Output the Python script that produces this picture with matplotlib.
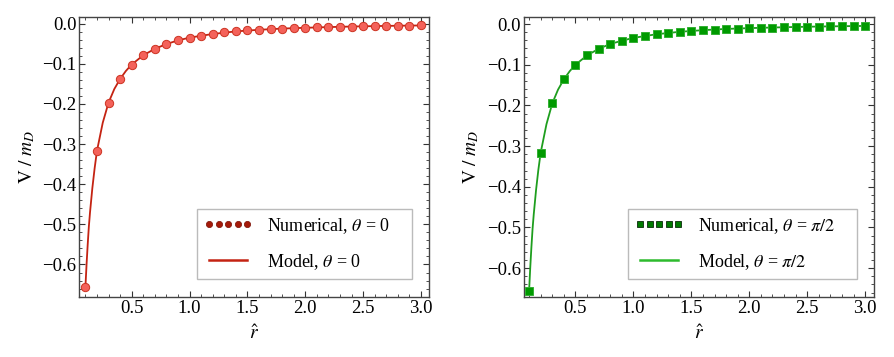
import numpy as np
import matplotlib
matplotlib.use("Agg")
from matplotlib import pyplot as plt
from matplotlib.lines import Line2D
from matplotlib.ticker import MultipleLocator, FuncFormatter

plt.rcParams['font.family'] = ['Liberation Serif', 'DejaVu Serif']
plt.rcParams['mathtext.fontset'] = 'stix'
plt.rcParams['font.size'] = 13

# datos
r_num = [0.1, 0.2, 0.3, 0.4, 0.5, 0.6, 0.7, 0.8, 0.9, 1.0,
         1.1, 1.2, 1.3, 1.4, 1.5, 1.6, 1.7, 1.8, 1.9, 2.0,
         2.1, 2.2, 2.3, 2.4, 2.5, 2.6, 2.7, 2.8, 2.9, 3.0]
v_num_0 = [-0.657, -0.317, -0.197, -0.138, -0.102, -0.079, -0.063, -0.051, -0.042, -0.035,
           -0.030, -0.026, -0.022, -0.0195, -0.017, -0.0155, -0.014, -0.0125, -0.0115, -0.0105,
           -0.0095, -0.0088, -0.0080, -0.0074, -0.0068, -0.0063, -0.0058, -0.0054, -0.0050, -0.0047]
v_num_pi2 = [-0.655, -0.316, -0.195, -0.136, -0.100, -0.077, -0.061, -0.049, -0.041, -0.034,
             -0.029, -0.025, -0.0215, -0.019, -0.0165, -0.015, -0.0135, -0.012, -0.011, -0.010,
             -0.0092, -0.0085, -0.0078, -0.0072, -0.0066, -0.0061, -0.0057, -0.0053, -0.0049, -0.0046]

r_mod = [0.1, 0.11, 0.12, 0.13, 0.14, 0.15, 0.16, 0.18, 0.2, 0.25, 0.3, 0.35, 0.4, 0.45,
         0.5, 0.6, 0.7, 0.8, 0.9, 1.0, 1.2, 1.4, 1.6, 1.8, 2.0, 2.2, 2.4, 2.6, 2.8, 3.0]
v_mod_0 = [-0.657, -0.600, -0.550, -0.505, -0.470, -0.440, -0.410, -0.360, -0.317, -0.247,
           -0.197, -0.163, -0.138, -0.118, -0.102, -0.079, -0.063, -0.051, -0.042, -0.035,
           -0.026, -0.0195, -0.0155, -0.0125, -0.0105, -0.0088, -0.0074, -0.0063, -0.0054, -0.0047]
v_mod_pi2 = [-0.655, -0.598, -0.548, -0.503, -0.468, -0.438, -0.408, -0.358, -0.316, -0.246,
             -0.195, -0.161, -0.136, -0.116, -0.100, -0.077, -0.061, -0.049, -0.041, -0.034,
             -0.025, -0.019, -0.015, -0.012, -0.010, -0.0085, -0.0072, -0.0061, -0.0053, -0.0046]

fig = plt.figure(figsize=(8.94, 3.57), dpi=100)
ax1 = fig.add_axes([0.0884, 0.168, 0.3915, 0.784])
ax2 = fig.add_axes([0.586, 0.168, 0.3915, 0.784])


def fmt(v, pos):
    s = "%.1f" % v
    if s == "-0.0":
        s = "0.0"
    return s.replace("-", "\u2212")


def estilo(ax, xlim, ylim):
    ax.set_xlim(*xlim)
    ax.set_ylim(*ylim)
    ax.xaxis.set_major_locator(MultipleLocator(0.5))
    ax.xaxis.set_minor_locator(MultipleLocator(0.1))
    ax.yaxis.set_major_locator(MultipleLocator(0.1))
    ax.yaxis.set_minor_locator(MultipleLocator(0.02))
    ax.xaxis.set_major_formatter(FuncFormatter(fmt))
    ax.yaxis.set_major_formatter(FuncFormatter(fmt))
    ax.tick_params(which='both', direction='in', top=True, right=True, colors='#333333',
                   labelcolor='black', labelsize=13.5, pad=2)
    ax.tick_params(which='major', length=4, width=0.8)
    ax.tick_params(which='minor', length=2, width=0.6)
    for s in ax.spines.values():
        s.set_color('#444444')
        s.set_linewidth(1.0)
    ax.set_xlabel(r"$\hat{r}$", fontsize=14, labelpad=5)
    ax.set_ylabel(r"$\mathrm{V}\ /\ m_D$", fontsize=14, labelpad=4)


def leyenda(ax, handles, labels, anchor):
    ax.legend(handles, labels, loc='lower right', bbox_to_anchor=anchor, borderaxespad=0,
              numpoints=5, handlelength=2.7, handletextpad=0.8, labelspacing=0.9,
              fancybox=False, edgecolor='#BBBBBB', framealpha=1, fontsize=13,
              borderpad=0.4)


# theta = 0
ax1.plot(r_mod, v_mod_0, color='#C42312', lw=1.3, zorder=2)
ax1.plot(r_num, v_num_0, ls='none', marker='o', ms=6, mfc='#F4625A', mec='#CC3322',
         mew=0.7, zorder=3)
estilo(ax1, (0.045, 3.07), (-0.681, 0.016))
h1 = [Line2D([], [], ls='none', marker='o', ms=4.5, mfc='#A51A0A', mec='#7A1005', mew=0.5),
      Line2D([], [], color='#C42312', lw=1.8)]
leyenda(ax1, h1, [r"Numerical, $\theta$ = 0    ", r"Model, $\theta$ = 0    "], (0.95, 0.065))

# theta = pi/2
ax2.plot(r_mod, v_mod_pi2, color='#1E9E1E', lw=1.3, zorder=2)
ax2.plot(r_num, v_num_pi2, ls='none', marker='s', ms=6, mfc='#009A00', mec='#33B033',
         mew=0.7, zorder=3)
estilo(ax2, (0.055, 3.075), (-0.671, 0.017))
h2 = [Line2D([], [], ls='none', marker='s', ms=4.2, mfc='#007A00', mec='#0A2A0A', mew=0.6),
      Line2D([], [], color='#2DBB2D', lw=1.8)]
leyenda(ax2, h2, [r"Numerical, $\theta$ = $\pi/2$    ", r"Model, $\theta$ = $\pi/2$    "],
        (0.951, 0.065))

fig.savefig("out.png", dpi=100)
